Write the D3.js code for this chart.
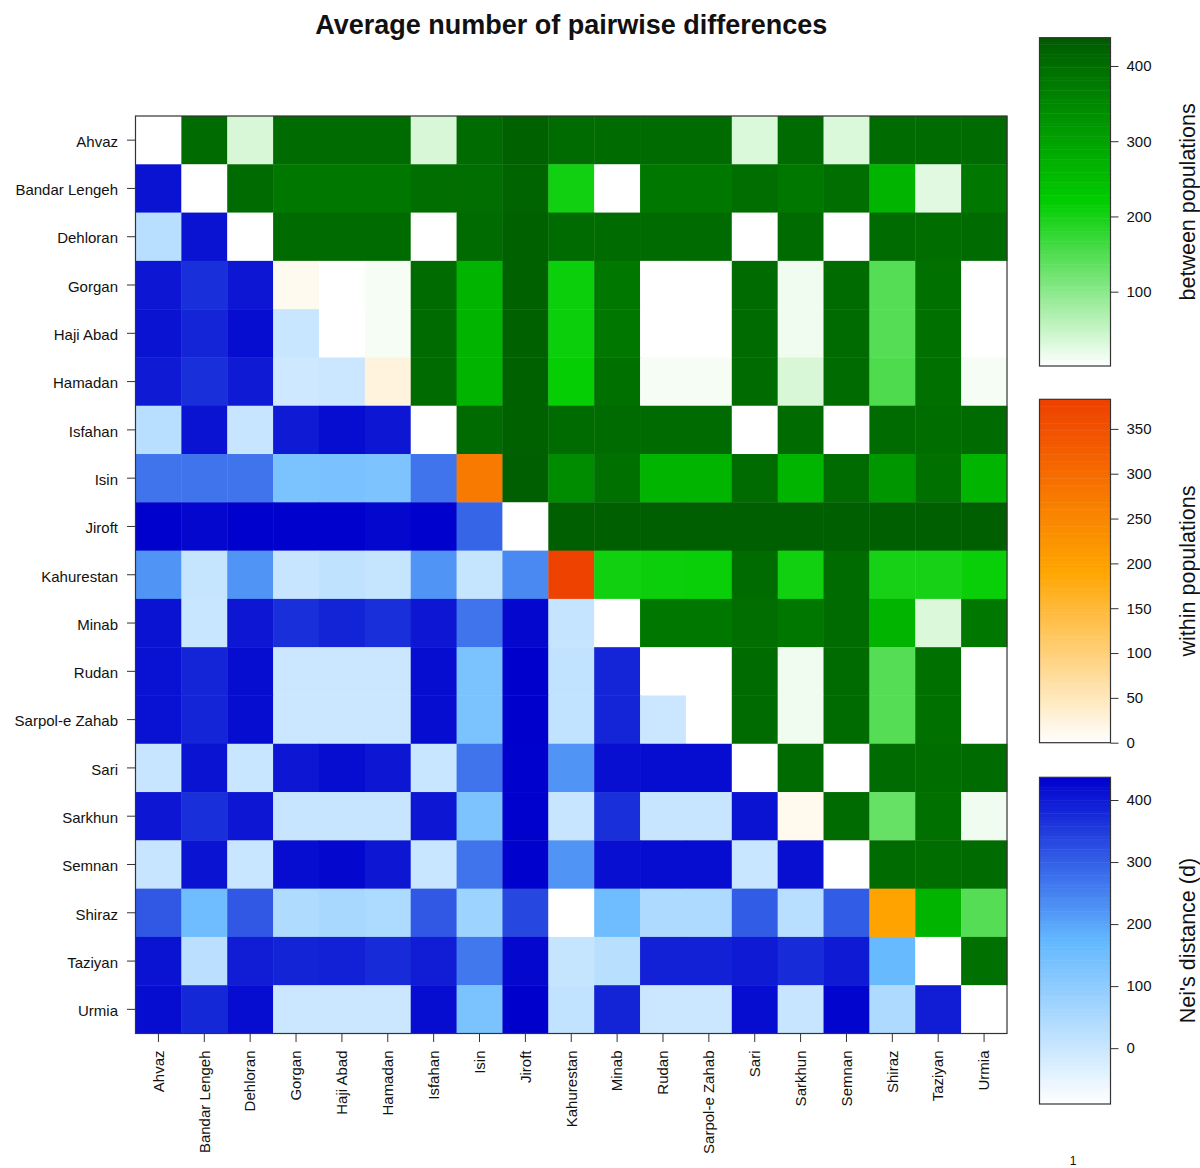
<!DOCTYPE html>
<html><head><meta charset="utf-8">
<script src="https://cdn.jsdelivr.net/npm/d3@7"></script>
<style>
body{margin:0;background:#fff}
text{font-family:"Liberation Sans",Arial,Helvetica,sans-serif;fill:#111}
</style>
</head><body>
<svg id="chart" width="1200" height="1168"></svg>
<script>
// ---------------- data ----------------
const populations = ["Ahvaz","Bandar Lengeh","Dehloran","Gorgan","Haji Abad","Hamadan","Isfahan","Isin","Jiroft","Kahurestan","Minab","Rudan","Sarpol-e Zahab","Sari","Sarkhun","Semnan","Shiraz","Taziyan","Urmia"];

// diagonal: average pairwise differences within populations
const withinPop = [0, 0, 0, 11, 0, 25, 0, 273, 0, 380, 0, 0, 0, 0, 13, 0, 195, 0, 0];

// upper triangle: between populations (row i, columns i+1 .. 18)
const betweenPop = [
  [405, 35, 405, 405, 405, 35, 405, 425, 405, 405, 405, 405, 33, 405, 33, 405, 405, 405],
  [405, 380, 380, 380, 400, 400, 418, 205, 2, 380, 380, 400, 380, 400, 267, 28, 380],
  [405, 405, 405, 2, 405, 425, 405, 405, 405, 405, 2, 405, 2, 405, 402, 405],
  [2, 10, 405, 267, 425, 210, 381, 2, 2, 405, 15, 405, 147, 396, 2],
  [10, 405, 267, 425, 210, 381, 2, 2, 405, 15, 405, 147, 396, 2],
  [405, 267, 425, 215, 396, 10, 10, 405, 35, 405, 153, 396, 10],
  [405, 425, 405, 405, 405, 405, 2, 405, 2, 405, 402, 405],
  [428, 343, 396, 267, 267, 405, 267, 405, 324, 396, 267],
  [428, 428, 428, 428, 428, 428, 428, 428, 428, 428],
  [206, 210, 212, 405, 206, 405, 200, 200, 212],
  [381, 381, 400, 381, 405, 267, 32, 381],
  [2, 405, 15, 405, 147, 396, 2],
  [405, 15, 405, 147, 396, 2],
  [405, 2, 405, 402, 405],
  [405, 132, 396, 15],
  [405, 402, 405],
  [267, 147],
  [396],
  []
];

// lower triangle: Nei's distance (row i, columns 0 .. i-1)
const neiDist = [
  [],
  [410],
  [30, 410],
  [405, 370, 405],
  [410, 384, 420, 3],
  [400, 370, 400, -5, 0],
  [30, 410, 5, 400, 420, 405],
  [270, 270, 270, 132, 137, 130, 270],
  [435, 425, 435, 435, 435, 425, 435, 292],
  [225, 8, 225, 5, 18, 8, 225, 8, 240],
  [410, 2, 405, 370, 385, 370, 405, 270, 425, 10],
  [412, 384, 420, 0, 0, 0, 420, 132, 437, 15, 384],
  [412, 384, 420, 0, 0, 0, 420, 132, 437, 15, 384, 0],
  [5, 410, 3, 405, 420, 405, 3, 270, 435, 225, 415, 420, 420],
  [405, 370, 405, 5, 5, 5, 405, 130, 435, 5, 370, 5, 5, 410],
  [5, 410, 3, 420, 425, 405, 3, 270, 435, 225, 415, 420, 420, 3, 415],
  [310, 153, 310, 45, 55, 48, 310, 75, 335, -90, 153, 47, 47, 305, 30, 305],
  [410, 25, 395, 385, 390, 375, 395, 265, 425, 8, 28, 390, 390, 400, 375, 400, 165],
  [420, 380, 420, 0, 0, 0, 420, 132, 437, 15, 385, 0, 0, 420, 5, 430, 47, 395]
];

const betweenTicks = [100, 200, 300, 400];
const withinTicks = [0, 50, 100, 150, 200, 250, 300, 350];
const neiTicks = [0, 100, 200, 300, 400];
const betweenRange = [1.2, 437.6];
const withinRange = [0, 383];
const neiRange = [-90, 436.6];
const chartTitle = "Average number of pairwise differences";
const keyTitles = ["between populations", "within populations", "Nei's distance (d)"];

// ---------------- scales ----------------
const mid = r => (r[0] + r[1]) / 2;
const greenScale = d3.scaleLinear().domain([betweenRange[0], mid(betweenRange), betweenRange[1]])
  .range(["#ffffff", "#00cd00", "#005a00"]).clamp(true);
const orangeScale = d3.scaleLinear().domain([withinRange[0], mid(withinRange), withinRange[1]])
  .range(["#ffffff", "#ffa500", "#ee4000"]).clamp(true);
const blueScale = d3.scaleLinear().domain([neiRange[0], mid(neiRange), neiRange[1]])
  .range(["#ffffff", "#63b8ff", "#0000cd"]).clamp(true);

const svg = d3.select("#chart");
const plot = {left: 135.5, right: 1007, top: 116, bottom: 1033.5};

const x = d3.scaleBand().domain(populations).range([plot.left, plot.right]);
const y = d3.scaleBand().domain(populations).range([plot.top, plot.bottom]);

// build cell list
const cells = [];
populations.forEach((rowName, i) => {
  populations.forEach((colName, j) => {
    let v, color;
    if (i === j) { v = withinPop[i]; color = orangeScale(v); }
    else if (j > i) { v = betweenPop[i][j - i - 1]; color = greenScale(v); }
    else { v = neiDist[i][j]; color = blueScale(v); }
    cells.push({row: rowName, col: colName, v, color});
  });
});

svg.append("g").selectAll("rect").data(cells).join("rect")
  .attr("x", d => x(d.col))
  .attr("y", d => y(d.row))
  .attr("width", x.bandwidth() + 0.4)
  .attr("height", y.bandwidth() + 0.4)
  .attr("fill", d => d.color);

// frame
svg.append("rect")
  .attr("x", plot.left).attr("y", plot.top)
  .attr("width", plot.right - plot.left).attr("height", plot.bottom - plot.top)
  .attr("fill", "none").attr("stroke", "#333").attr("stroke-width", 1.2);

// axes
const yAxis = svg.append("g").attr("transform", `translate(${plot.left},0)`)
  .call(d3.axisLeft(y).tickSize(8.5).tickSizeOuter(0).tickPadding(9));
yAxis.select(".domain").remove();
yAxis.selectAll(".tick line").attr("stroke", "#333");
yAxis.selectAll("text").attr("font-size", 15).attr("font-family", null).style("fill", "#111")
  .attr("dy", "0.45em");

const xAxis = svg.append("g").attr("transform", `translate(0,${plot.bottom})`)
  .call(d3.axisBottom(x).tickSize(8.5).tickSizeOuter(0).tickPadding(9));
xAxis.select(".domain").remove();
xAxis.selectAll(".tick line").attr("stroke", "#333");
xAxis.selectAll("text")
  .attr("font-size", 15).attr("font-family", null).style("fill", "#111")
  .attr("text-anchor", "end")
  .attr("transform", "rotate(-90)")
  .attr("x", -17).attr("y", 0).attr("dy", "0.35em");

// title
svg.append("text")
  .attr("x", (plot.left + plot.right) / 2).attr("y", 34)
  .attr("text-anchor", "middle")
  .attr("font-size", 27).attr("font-weight", "bold")
  .text(chartTitle);

// color keys
const keys = [
  {scale: greenScale, range: betweenRange, ticks: betweenTicks, top: 37.7, bottom: 366, title: keyTitles[0]},
  {scale: orangeScale, range: withinRange, ticks: withinTicks, top: 399.3, bottom: 742.7, title: keyTitles[1]},
  {scale: blueScale, range: neiRange, ticks: neiTicks, top: 777.3, bottom: 1104, title: keyTitles[2]}
];
const keyLeft = 1039.5, keyRight = 1110.5;

keys.forEach(k => {
  const ys = d3.scaleLinear().domain(k.range).range([k.bottom, k.top]);
  const n = 100;
  const step = (k.range[1] - k.range[0]) / n;
  const bands = d3.range(n).map(b => k.range[0] + b * step);
  const g = svg.append("g");
  g.selectAll("rect").data(bands).join("rect")
    .attr("x", keyLeft).attr("width", keyRight - keyLeft)
    .attr("y", d => ys(d + step))
    .attr("height", d => ys(d) - ys(d + step) + 0.5)
    .attr("fill", d => k.scale(d + step / 2));
  g.append("rect")
    .attr("x", keyLeft).attr("y", k.top)
    .attr("width", keyRight - keyLeft).attr("height", k.bottom - k.top)
    .attr("fill", "none").attr("stroke", "#333").attr("stroke-width", 1.2);
  const ax = svg.append("g").attr("transform", `translate(${keyRight},0)`)
    .call(d3.axisRight(ys).tickValues(k.ticks).tickSize(8).tickPadding(8).tickFormat(d3.format("d")));
  ax.select(".domain").remove();
  ax.selectAll(".tick line").attr("stroke", "#333");
  ax.selectAll("text").attr("font-size", 15).attr("font-family", null).style("fill", "#111");
  svg.append("text")
    .attr("transform", `translate(1195,${(k.top + k.bottom) / 2}) rotate(-90)`)
    .attr("text-anchor", "middle")
    .attr("font-size", 21.5)
    .text(k.title);
});

svg.append("text")
  .attr("x", 1073).attr("y", 1165)
  .attr("text-anchor", "middle")
  .attr("font-size", 12)
  .text("1");
</script>
</body></html>
